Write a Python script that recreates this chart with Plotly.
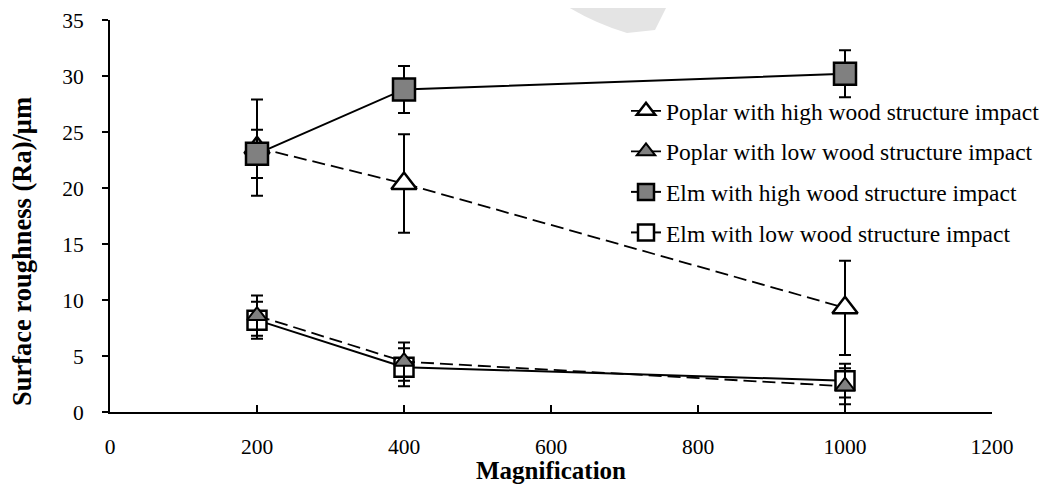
import plotly.graph_objects as go

magnification = [200, 400, 1000]

poplar_high = [23.6, 20.4, 9.3]
poplar_high_err = [4.3, 4.4, 4.2]

poplar_low = [8.6, 4.5, 2.3]
poplar_low_err = [1.8, 1.7, 1.6]

elm_high = [23.05, 28.8, 30.2]
elm_high_err = [2.15, 2.1, 2.1]

elm_low = [8.2, 4.0, 2.8]
elm_low_err = [1.65, 1.7, 1.5]

names = [
    "Poplar with high wood structure impact",
    "Poplar with low wood structure impact",
    "Elm with high wood structure impact",
    "Elm with low wood structure impact",
]

x_ticks = [0, 200, 400, 600, 800, 1000, 1200]
y_ticks = [0, 5, 10, 15, 20, 25, 30, 35]

FONT = "Liberation Serif, Times New Roman, serif"
GRAY = "#808080"

# the page body has an 8px margin; work in page pixels and convert
OFF = 8
W, H = 1056 - OFF, 486 - OFF
AX_L, AX_R, AX_T, AX_B = 110, 992, 20, 412  # page pixels of the plot area
L, R, T, B = AX_L - OFF, W - (AX_R - OFF), AX_T - OFF, H - (AX_B - OFF)
PW, PH = W - L - R, H - T - B


def px(xp):
    return (xp - AX_L) / PW


def py(yp):
    return (AX_B - yp) / PH


def err(vals):
    return dict(type="data", array=vals, visible=True, color="black", thickness=2, width=6)


DASH = "13px,6px"

fig = go.Figure()

fig.add_trace(go.Scatter(
    x=magnification, y=poplar_high, name=names[0], legendrank=1, legendgroup="a",
    mode="lines+markers",
    line=dict(color="black", width=1.8, dash=DASH),
    marker=dict(symbol="triangle-up", size=22, color="white", line=dict(color="black", width=2.5)),
    error_y=err(poplar_high_err), cliponaxis=False,
))
fig.add_trace(go.Scatter(
    x=magnification, y=elm_high, name=names[2], legendrank=3, legendgroup="c",
    mode="lines+markers",
    line=dict(color="black", width=2),
    marker=dict(symbol="square", size=22, color=GRAY, line=dict(color="black", width=2.5)),
    error_y=err(elm_high_err), cliponaxis=False,
))
fig.add_trace(go.Scatter(
    x=magnification, y=elm_low, name=names[3], legendrank=4, legendgroup="d",
    mode="lines+markers",
    line=dict(color="black", width=2),
    marker=dict(symbol="square", size=19, color="white", line=dict(color="black", width=2.5)),
    error_y=err(elm_low_err), cliponaxis=False,
))
fig.add_trace(go.Scatter(
    x=magnification, y=poplar_low, name=names[1], legendrank=2, legendgroup="b",
    mode="lines+markers",
    line=dict(color="black", width=1.8, dash=DASH),
    marker=dict(symbol="triangle-up", size=17, color=GRAY, line=dict(color="black", width=2)),
    error_y=err(poplar_low_err), cliponaxis=False,
))

# faint watermark blob at the top
pts = [(557, 0), (590, 22), (627, 33), (655, 30), (670, 0)]
pp = [(px(a), py(b)) for a, b in pts]
path = (f"M {pp[0][0]},{pp[0][1]} Q {pp[1][0]},{pp[1][1]} {pp[2][0]},{pp[2][1]} "
        f"L {pp[3][0]},{pp[3][1]} L {pp[4][0]},{pp[4][1]} Z")
fig.add_shape(type="path", path=path, xref="paper", yref="paper",
              fillcolor="#e4e4e4", line=dict(width=0), layer="below")

fig.update_layout(
    width=W, height=H,
    margin=dict(l=L, r=R, t=T, b=B, autoexpand=False),
    paper_bgcolor="white", plot_bgcolor="white",
    font=dict(family=FONT, color="black", size=21),
    showlegend=True,
    legend=dict(
        x=px(626), y=py(89), xanchor="left", yanchor="top",
        font=dict(family=FONT, size=23.5, color="black"),
        bgcolor="rgba(0,0,0,0)", itemwidth=30, tracegroupgap=7,
        traceorder="grouped",
    ),
    xaxis=dict(
        range=[0, 1200], tickvals=x_ticks, ticktext=[str(v) for v in x_ticks],
        showgrid=False, zeroline=False, showline=True, linecolor="black", linewidth=2,
        ticks="inside", ticklen=7, tickwidth=1.5, tickcolor="black",
        ticklabelstandoff=14, tickfont=dict(family=FONT, size=21.5),
    ),
    yaxis=dict(
        range=[0, 35], tickvals=y_ticks, ticktext=[str(v) for v in y_ticks],
        showgrid=False, zeroline=False, showline=True, linecolor="black", linewidth=2,
        ticks="outside", ticklen=6, tickwidth=1.5, tickcolor="black",
        ticklabelstandoff=14, tickfont=dict(family=FONT, size=21.5),
    ),
    annotations=[
        dict(text="<b>Magnification</b>", xref="paper", yref="paper",
             x=px(551), y=py(470), xanchor="center", yanchor="middle",
             showarrow=False, font=dict(family=FONT, size=25)),
        dict(text="<b>Surface roughness (Ra)/μm</b>", xref="paper", yref="paper",
             x=px(22), y=py(252), xanchor="center", yanchor="middle",
             textangle=-90, showarrow=False, font=dict(family=FONT, size=26.5)),
    ],
)

fig.write_html("out.html")
